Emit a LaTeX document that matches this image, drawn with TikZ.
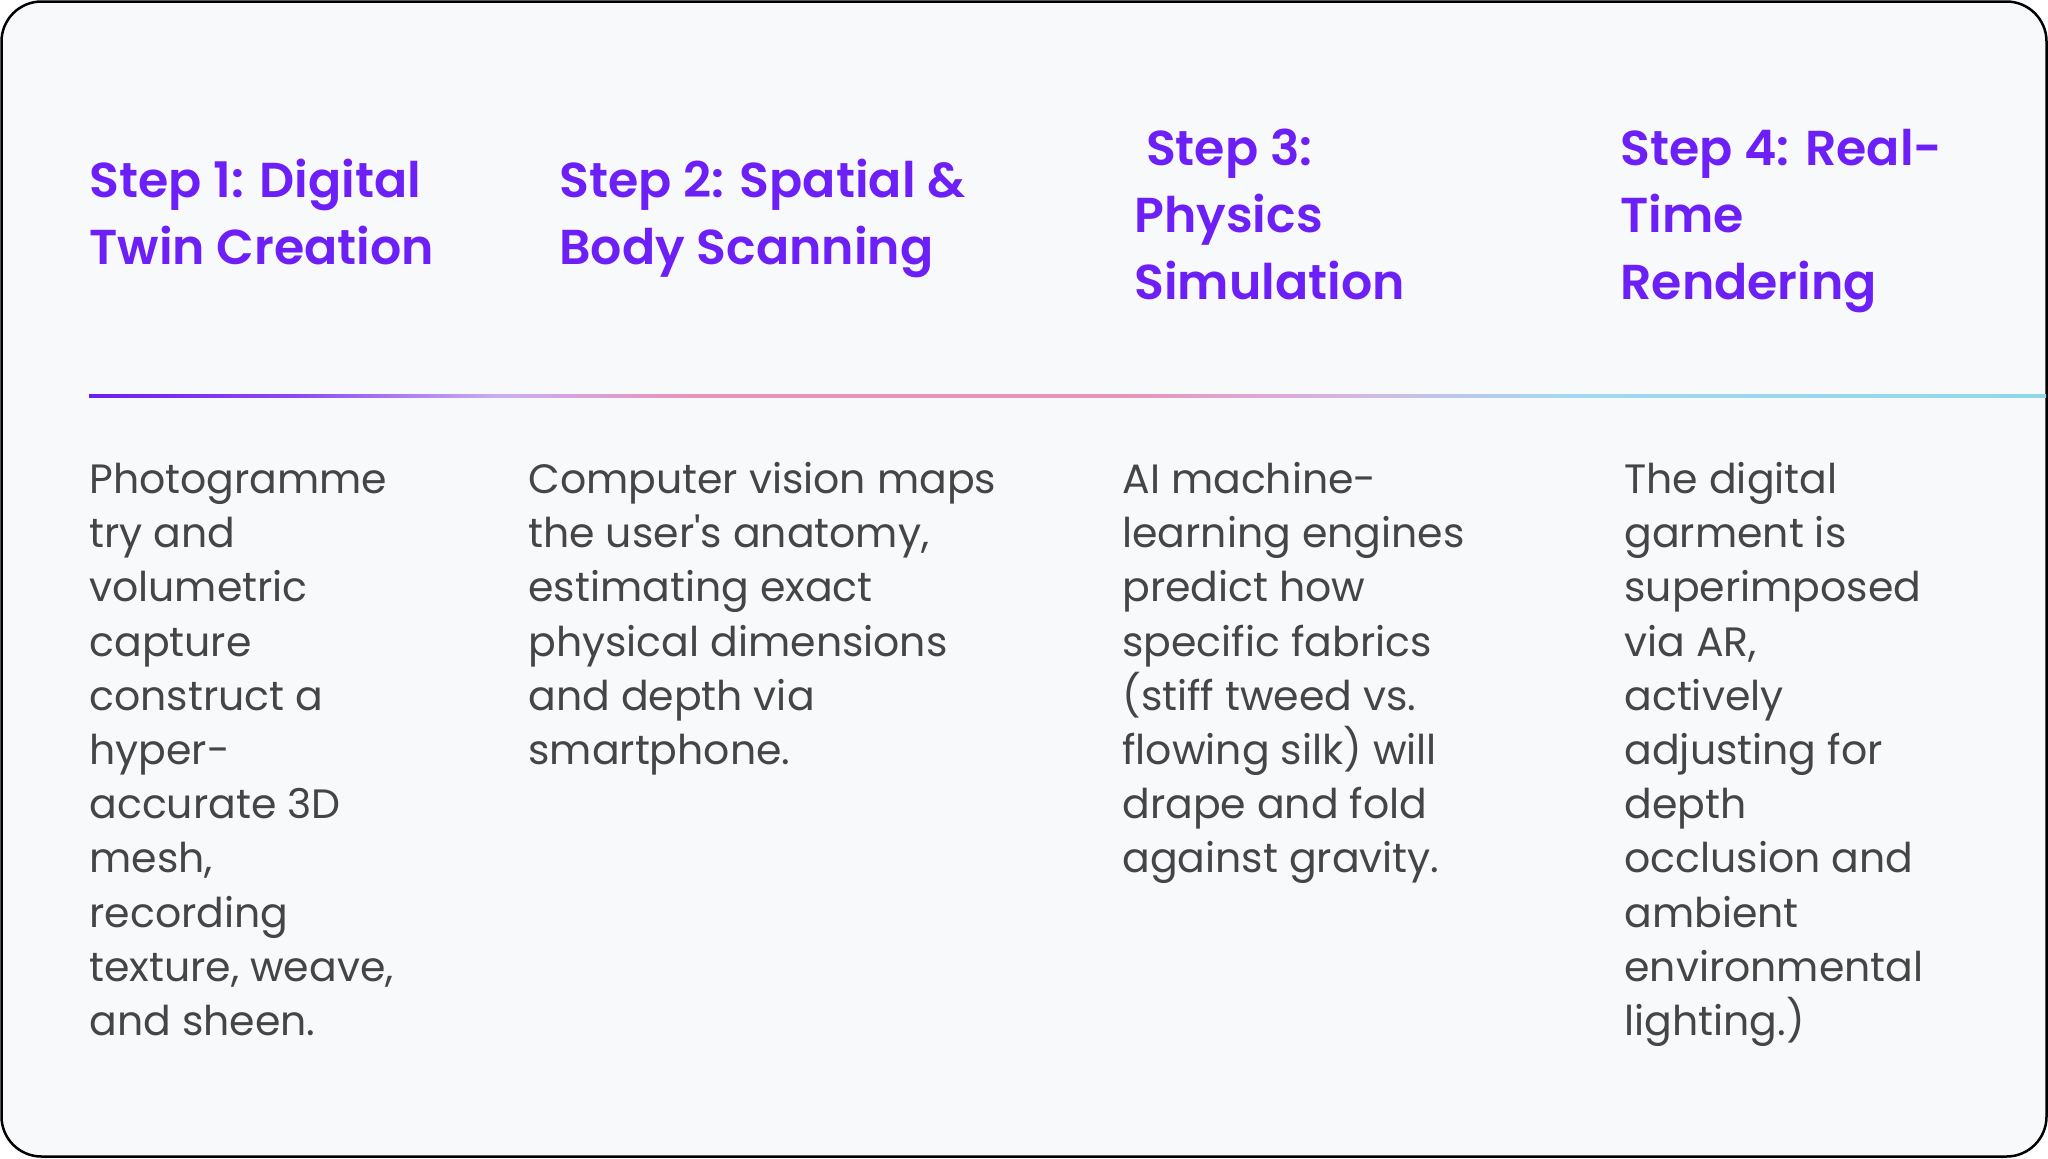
\documentclass[tikz,border=0pt]{standalone}
\usepackage{fontspec}
\setmainfont{Poppins}
\newfontfamily\titlefont{Poppins SemiBold}
\definecolor{bgfill}{HTML}{F8F9FB}
\definecolor{titlecol}{HTML}{6C1FF6}
\definecolor{bodycol}{HTML}{454545}
\definecolor{gA}{HTML}{6A1FF0}
\definecolor{gB}{HTML}{8B4CF2}
\definecolor{gC}{HTML}{C9AEF2}
\definecolor{gD}{HTML}{EB92B8}
\definecolor{gE}{HTML}{E991B6}
\definecolor{gF}{HTML}{D4B5E6}
\definecolor{gG}{HTML}{A6D8F0}
\definecolor{gH}{HTML}{8ED8E8}
\pgfdeclarehorizontalshading{gradline}{100bp}{color(0bp)=(gA); color(25bp)=(gA); color(30.4bp)=(gB); color(35.5bp)=(gC); color(40.5bp)=(gD); color(50.85bp)=(gE); color(57.2bp)=(gF); color(62.35bp)=(gG); color(75bp)=(gH); color(100bp)=(gH)}
\tikzset{
  titlebox/.style={anchor=north west, inner sep=0pt, align=left, text=titlecol,
    font={\fontsize{24.5}{33.5}\selectfont\titlefont}},
  bodybox/.style={anchor=north west, inner sep=0pt, align=left, text=bodycol,
    font={\fontsize{20.5}{27.1}\selectfont}},
}
\newcommand{\tstrut}{\rule{0pt}{24pt}}
\newcommand{\bstrut}{\rule{0pt}{20pt}}
\begin{document}
\begin{tikzpicture}[x=0.5pt,y=-0.5pt]
\useasboundingbox (0,0) rectangle (2048,1158);
\draw[line width=1.25pt, rounded corners=20pt, fill=bgfill] (1.5,1.5) rectangle (2046.5,1156.5);
% titles
\node[titlebox] (t1) at (89,149) {\tstrut Step 1: Digital\\Twin Creation};
\node[titlebox] (t2) at (559,149) {\tstrut Step 2: Spatial \&\\Body Scanning};
\node[titlebox] (t3) at (1134,117) {\tstrut\ Step 3:\\Physics\\Simulation};
\node[titlebox] (t4) at (1620,117) {\tstrut Step 4: Real-\\Time\\Rendering};
% gradient rule
\coordinate (ls) at (89,394.5);
\coordinate (le) at (2046,397.5);
\shade[shading=gradline] (ls) rectangle (le);
% bodies
\node[bodybox] (b1) at (89,453) {\bstrut Photogramme\\try and\\volumetric\\capture\\construct a\\hyper-\\accurate 3D\\mesh,\\recording\\texture, weave,\\and sheen.};
\node[bodybox] (b2) at (528,453) {\bstrut Computer vision maps\\the user\textquotesingle s anatomy,\\estimating exact\\physical dimensions\\and depth via\\smartphone.};
\node[bodybox] (b3) at (1122,453) {\bstrut AI machine-\\learning engines\\predict how\\specific fabrics\\(stiff tweed vs.\\flowing silk) will\\drape and fold\\against gravity.};
\node[bodybox] (b4) at (1624,453) {\bstrut The digital\\garment is\\superimposed\\via AR,\\actively\\adjusting for\\depth\\occlusion and\\ambient\\environmental\\lighting.)};
\end{tikzpicture}
\end{document}
